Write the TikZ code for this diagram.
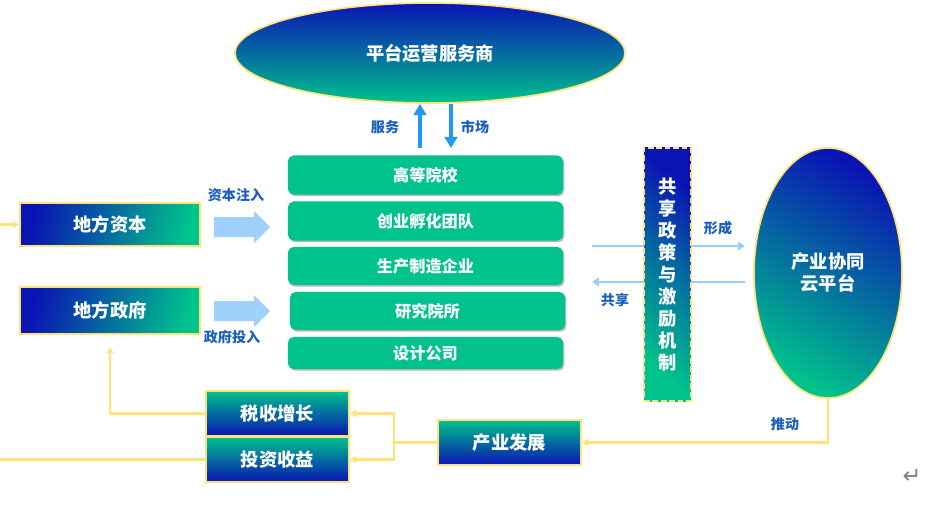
\documentclass[tikz,border=0pt]{standalone}
\usepackage{fontspec}
\setmainfont{Noto Sans CJK SC}
\newfontfamily\symfont{DejaVu Sans}
\usepackage{xcolor}
\usetikzlibrary{arrows.meta, positioning, shapes.geometric, shadows}

\definecolor{deepblue}{HTML}{0A14B4}
\definecolor{mintgreen}{HTML}{00C28C}
\definecolor{paleyellow}{HTML}{FFE27A}
\definecolor{labelblue}{HTML}{1A5FBF}
\definecolor{skyarrow}{HTML}{9CCDF7}
\definecolor{fatblue}{HTML}{A0D0FC}
\definecolor{brightblue}{HTML}{1E9BEF}

\begin{document}
\begin{tikzpicture}[x=0.025cm, y=-0.025cm, >=Stealth,
    bigtext/.style={font=\bfseries\fontsize{13}{16}\selectfont, text=white},
    ovalnode/.style={ellipse, draw=paleyellow, line width=1.2pt, inner sep=0pt, bigtext},
    stackbox/.style={rectangle, rounded corners=4pt, fill=mintgreen, minimum width=6.875cm,
        font=\bfseries\fontsize{11.5}{14}\selectfont, text=white,
        drop shadow={shadow xshift=1pt, shadow yshift=-1.2pt, fill=black!45, opacity=0.6}},
    sidebox/.style={rectangle, draw=paleyellow, line width=1.4pt, left color=deepblue,
        right color=mintgreen, shading angle=75, minimum width=4.5cm, bigtext},
    gainbox/.style={rectangle, draw=paleyellow, line width=1.4pt, top color=mintgreen,
        bottom color=deepblue, minimum width=3.575cm, minimum height=1.125cm, bigtext},
    lbl/.style={font=\bfseries\fontsize{10}{12}\selectfont, text=labelblue},
    yline/.style={draw=paleyellow, line width=1.8pt},
    yarrow/.style={yline, -{Triangle[length=4.5pt,width=5pt]}},
    thinarrow/.style={draw=skyarrow, line width=1.6pt, -{Triangle[length=5pt,width=6pt]}},
    bluearrow/.style={draw=brightblue, line width=2.6pt, -{Triangle[length=8pt,width=9pt]}}]

    \useasboundingbox (0,0) rectangle (928,506);

    % Platform operator
    \node[ovalnode, top color=deepblue, bottom color=mintgreen, minimum width=9.75cm,
        minimum height=2.5cm] (ops) at (430,53) {平台运营服务商};

    % Service / market arrows
    \coordinate (upS) at (420,148);
    \coordinate (dnS) at (451,148);
    \draw[bluearrow] (upS) -- (upS |- ops.south);
    \draw[bluearrow] (dnS |- ops.south) -- (dnS);
    \node[lbl] (svc) at (385,127) {服务};
    \node[lbl] (mkt) at (475,127) {市场};

    % Participants
    \node[stackbox, minimum height=0.975cm] (uni) at (425.5,175) {高等院校};
    \node[stackbox, minimum height=0.975cm] (team) at (425.5,221) {创业孵化团队};
    \node[stackbox, minimum height=0.95cm] (mfg) at (425.5,266) {生产制造企业};
    \node[stackbox, minimum height=0.95cm] (lab) at (427.5,311) {研究院所};
    \node[stackbox, minimum height=0.8cm] (dsn) at (425.5,353) {设计公司};

    % Local capital and government
    \node[sidebox, minimum height=1.075cm] (cap) at (110,224.5) {地方资本};
    \node[sidebox, minimum height=1.175cm] (gov) at (110,310.5) {地方政府};

    % Inflow arrows
    \fill[fatblue] (214,217) -- (254,217) -- (254,211) -- (270,227) -- (254,243)
        -- (254,237) -- (214,237) -- cycle;
    \fill[fatblue] (214,301) -- (254,301) -- (254,295) -- (270,311) -- (254,327)
        -- (254,321) -- (214,321) -- cycle;
    \node[lbl] (capin) at (236,195) {资本注入};
    \node[lbl] (govin) at (232,337) {政府投入};

    % Share and form arrows (behind the policy bar)
    \coordinate (fmA) at (592,246);
    \coordinate (fmB) at (745,246);
    \coordinate (shA) at (745,282);
    \coordinate (shB) at (592,282);
    \draw[thinarrow] (fmA) -- (fmB);
    \draw[thinarrow] (shA) -- (shB);
    \node[lbl] (form) at (718,228) {形成};
    \node[lbl] (share) at (615,300) {共享};

    % Policy bar
    \node[rectangle, draw=paleyellow, line width=1.4pt, dash pattern=on 4pt off 2pt,
        top color=deepblue, bottom color=mintgreen, middle color=deepblue!45!mintgreen,
        shading angle=-40, minimum width=1.175cm, minimum height=6.325cm, align=center,
        font=\bfseries\fontsize{13}{15.6}\selectfont, text=white]
        (pol) at (667.5,274.5) {共\\享\\政\\策\\与\\激\\励\\机\\制};

    % Cloud platform
    \node[ovalnode, top color=deepblue, bottom color=mintgreen, shading angle=-30,
        minimum width=3.7cm, minimum height=6.25cm, align=center,
        font=\bfseries\fontsize{13}{15.6}\selectfont]
        (cloud) at (828,273) {产业协同\\云平台};

    % Industry development and returns
    \node[gainbox] (dev) at (509.5,442.5) {产业发展};
    \node[gainbox] (tax) at (277.5,413.5) {税收增长};
    \node[gainbox] (inv) at (277.5,459.5) {投资收益};

    \draw[yarrow] (cloud.south) |- (dev.east);
    \node[lbl] (push) at (785,424) {推动};

    \coordinate (jn) at (394,442.5);
    \draw[yline] (dev.west) -- (jn);
    \draw[yarrow] (jn) |- (tax.east);
    \draw[yarrow] (jn) |- (inv.east);

    \coordinate (govS) at (110,347);
    \draw[yarrow] (tax.west) -| (govS);
    \coordinate (leftInv) at (0,459.5);
    \draw[yline] (inv.west) -- (leftInv);
    \coordinate (leftCap) at (0,224.5);
    \draw[yarrow] (leftCap) -- (cap.west);

    % Return mark
    \node[text=black!50, font=\symfont\fontsize{16}{18}\selectfont] (ret) at (912,476) {↵};
\end{tikzpicture}
\end{document}
